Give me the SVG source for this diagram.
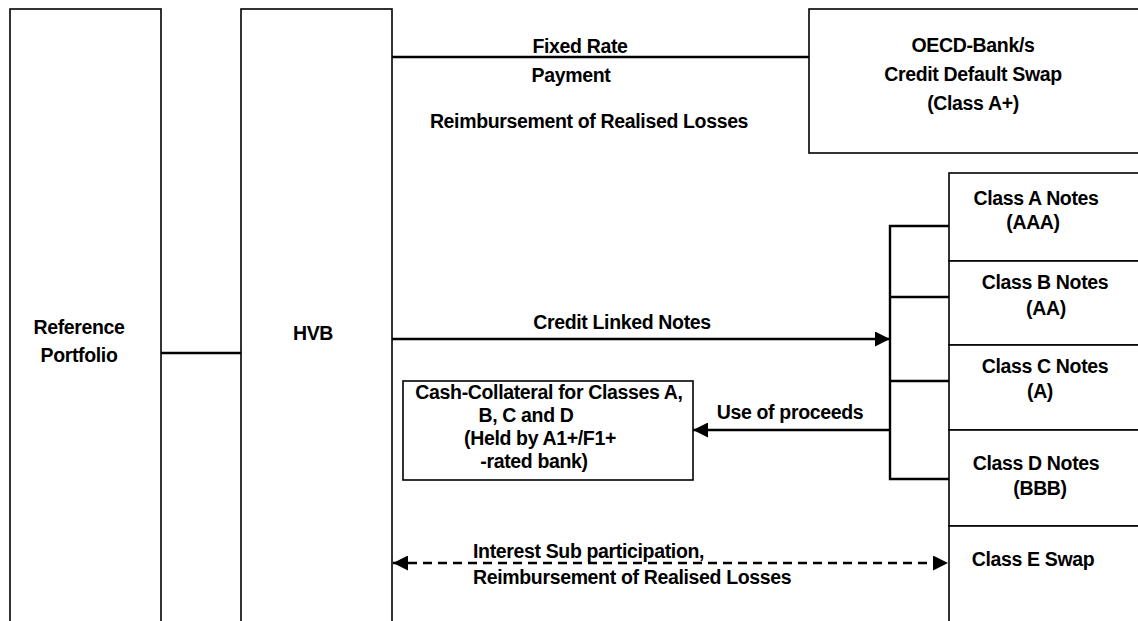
<svg xmlns="http://www.w3.org/2000/svg" width="1138" height="621" viewBox="0 0 1138 621">
<style>
.box{fill:#fff;stroke:#000;stroke-width:1.6}
.ln{fill:none;stroke:#000;stroke-width:2.4}
.t{font-family:"Liberation Sans",Arial,sans-serif;font-weight:bold;font-size:19.5px;fill:#000;letter-spacing:-0.35px}
.m{text-anchor:middle}
</style>
<defs>
<marker id="ah" viewBox="0 0 10 10" refX="10" refY="5" markerWidth="16" markerHeight="15" markerUnits="userSpaceOnUse" orient="auto-start-reverse">
<path d="M0,0 L10,5 L0,10 Z" fill="#000"/>
</marker>
</defs>
<rect width="1138" height="621" fill="#fff"/>
<g id="reference-portfolio">
<rect class="box" x="10" y="9" width="151" height="640"/>
<text class="t m" x="79" y="334">Reference</text>
<text class="t m" x="79" y="362">Portfolio</text>
</g>
<g id="hvb">
<rect class="box" x="241" y="9" width="151" height="640"/>
<text class="t m" x="313" y="340">HVB</text>
</g>
<g id="oecd">
<rect class="box" x="809" y="9" width="340" height="144"/>
<text class="t m" x="973" y="52">OECD-Bank/s</text>
<text class="t m" x="973" y="81">Credit Default Swap</text>
<text class="t m" x="973" y="110">(Class A+)</text>
</g>
<g id="class-a">
<rect class="box" x="949" y="173" width="200" height="88"/>
<text class="t m" x="1036" y="205">Class A Notes</text>
<text class="t m" x="1033" y="229">(AAA)</text>
</g>
<g id="class-b">
<rect class="box" x="949" y="261" width="200" height="84"/>
<text class="t m" x="1045" y="289">Class B Notes</text>
<text class="t m" x="1046" y="315">(AA)</text>
</g>
<g id="class-c">
<rect class="box" x="949" y="345" width="200" height="85"/>
<text class="t m" x="1045" y="373">Class C Notes</text>
<text class="t m" x="1040" y="398">(A)</text>
</g>
<g id="class-d">
<rect class="box" x="949" y="430" width="200" height="96"/>
<text class="t m" x="1036" y="470">Class D Notes</text>
<text class="t m" x="1040" y="495">(BBB)</text>
</g>
<g id="class-e">
<rect class="box" x="949" y="526" width="200" height="120"/>
<text class="t m" x="1033" y="566">Class E Swap</text>
</g>
<g id="cash-collateral">
<rect class="box" x="403" y="381" width="290" height="99"/>
<text class="t m" x="549" y="399">Cash-Collateral for Classes A,</text>
<text class="t m" x="526" y="422">B, C and D</text>
<text class="t m" x="540" y="445">(Held by A1+/F1+</text>
<text class="t m" x="534" y="468">-rated bank)</text>
</g>
<g id="connectors">
<line class="ln" x1="161" y1="353" x2="241" y2="353" stroke-width="2"/>
<line class="ln" x1="392" y1="57" x2="809" y2="57" stroke-width="2.8"/>
<line class="ln" x1="392" y1="339" x2="890" y2="339" marker-end="url(#ah)"/>
<path class="ln" d="M949,226 H890 V479 H949 M890,297 H949 M890,381 H949" stroke-width="2.6"/>
<line class="ln" x1="890" y1="430" x2="693" y2="430" marker-end="url(#ah)"/>
<line class="ln" x1="393" y1="563" x2="948" y2="563" stroke-dasharray="9,6" marker-start="url(#ah)" marker-end="url(#ah)"/>
</g>
<g id="labels">
<text class="t m" x="580" y="53">Fixed Rate</text>
<text class="t m" x="571" y="82">Payment</text>
<text class="t m" x="589" y="128">Reimbursement of Realised Losses</text>
<text class="t m" x="622" y="329">Credit Linked Notes</text>
<text class="t m" x="790" y="419">Use of proceeds</text>
<text class="t" x="473" y="558">Interest Sub participation,</text>
<text class="t" x="473" y="584">Reimbursement of Realised Losses</text>
</g>
</svg>
